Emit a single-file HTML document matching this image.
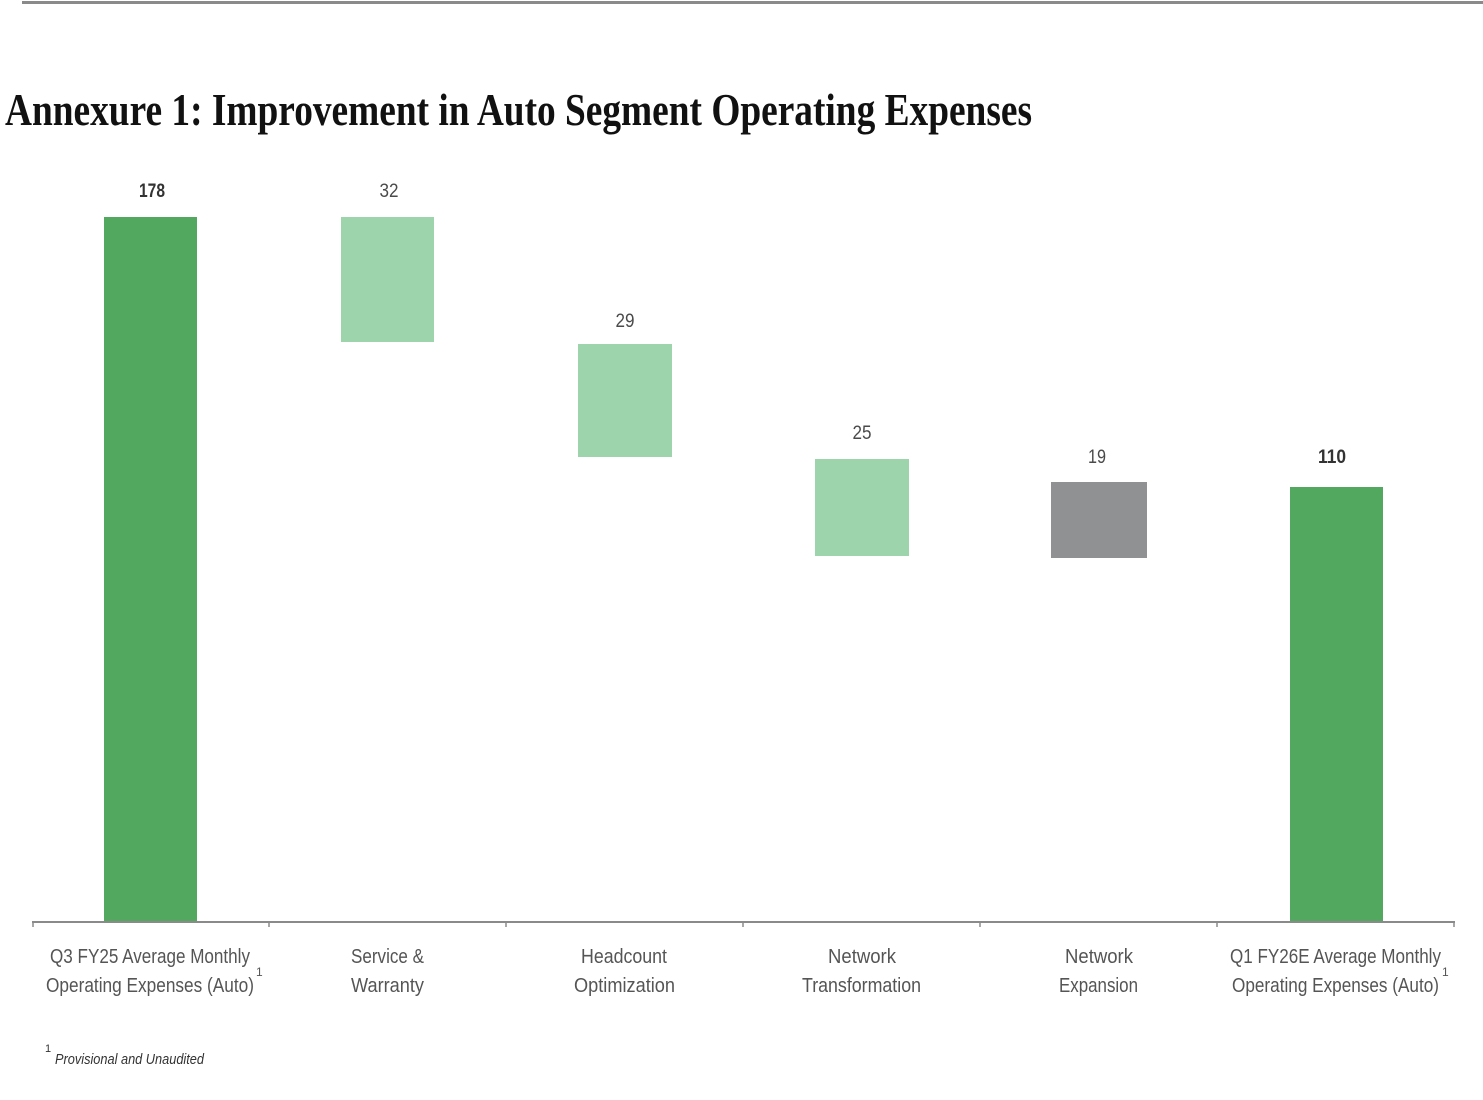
<!DOCTYPE html>
<html><head><meta charset="utf-8"><style>
html,body{margin:0;padding:0;background:#fff;}
svg{display:block;}
</style></head><body>
<svg width="1483" height="1100" viewBox="0 0 1483 1100" xmlns="http://www.w3.org/2000/svg">
<rect width="1483" height="1100" fill="#fff"/>
<rect x="22" y="1" width="1461" height="3" fill="#8a8a8a"/>
<text x="5" y="125" font-family="'Liberation Serif', serif" font-size="46" font-weight="bold" fill="#111" textLength="1027" lengthAdjust="spacingAndGlyphs">Annexure 1: Improvement in Auto Segment Operating Expenses</text>

<!-- bars -->
<rect x="104" y="217" width="93" height="705" fill="#53a85f"/>
<rect x="341" y="217" width="93" height="125" fill="#9dd4ab"/>
<rect x="578" y="344" width="94" height="113" fill="#9dd4ab"/>
<rect x="815" y="459" width="94" height="97" fill="#9dd4ab"/>
<rect x="1051" y="482" width="96" height="76" fill="#909193"/>
<rect x="1290" y="487" width="93" height="435" fill="#53a85f"/>

<!-- axis -->
<line x1="32" y1="922" x2="1455" y2="922" stroke="#8a8a8a" stroke-width="2"/>
<g stroke="#8a8a8a" stroke-width="1.5">
<line x1="33" y1="922" x2="33" y2="927"/>
<line x1="269" y1="922" x2="269" y2="927"/>
<line x1="506" y1="922" x2="506" y2="927"/>
<line x1="743" y1="922" x2="743" y2="927"/>
<line x1="980" y1="922" x2="980" y2="927"/>
<line x1="1217" y1="922" x2="1217" y2="927"/>
<line x1="1454" y1="922" x2="1454" y2="927"/>
</g>

<!-- value labels -->
<g font-family="'Liberation Sans', sans-serif" font-size="19" fill="#4a4a4a" text-anchor="middle">
<text x="152" y="197" font-weight="bold" fill="#333" textLength="26" lengthAdjust="spacingAndGlyphs">178</text>
<text x="389" y="197" textLength="19" lengthAdjust="spacingAndGlyphs">32</text>
<text x="625" y="327" textLength="19" lengthAdjust="spacingAndGlyphs">29</text>
<text x="862" y="439" textLength="19" lengthAdjust="spacingAndGlyphs">25</text>
<text x="1097" y="463" textLength="18" lengthAdjust="spacingAndGlyphs">19</text>
<text x="1332" y="463" font-weight="bold" fill="#333" textLength="28" lengthAdjust="spacingAndGlyphs">110</text>
</g>

<!-- category labels -->
<g font-family="'Liberation Sans', sans-serif" font-size="20" fill="#555">
<text x="50" y="963" textLength="200" lengthAdjust="spacingAndGlyphs">Q3 FY25 Average Monthly</text>
<text x="46" y="992" textLength="208" lengthAdjust="spacingAndGlyphs">Operating Expenses (Auto)</text>
<text x="256" y="976" font-size="12">1</text>

<text x="351" y="963" textLength="73" lengthAdjust="spacingAndGlyphs">Service &amp;</text>
<text x="351" y="992" textLength="73" lengthAdjust="spacingAndGlyphs">Warranty</text>

<text x="581" y="963" textLength="86" lengthAdjust="spacingAndGlyphs">Headcount</text>
<text x="574" y="992" textLength="101" lengthAdjust="spacingAndGlyphs">Optimization</text>

<text x="828" y="963" textLength="68" lengthAdjust="spacingAndGlyphs">Network</text>
<text x="802" y="992" textLength="119" lengthAdjust="spacingAndGlyphs">Transformation</text>

<text x="1065" y="963" textLength="68" lengthAdjust="spacingAndGlyphs">Network</text>
<text x="1059" y="992" textLength="79" lengthAdjust="spacingAndGlyphs">Expansion</text>

<text x="1230" y="963" textLength="211" lengthAdjust="spacingAndGlyphs">Q1 FY26E Average Monthly</text>
<text x="1232" y="992" textLength="207" lengthAdjust="spacingAndGlyphs">Operating Expenses (Auto)</text>
<text x="1442" y="976" font-size="12">1</text>
</g>

<!-- footnote -->
<text x="45" y="1052" font-family="'Liberation Sans', sans-serif" font-size="11" fill="#333">1</text>
<text x="55" y="1064" font-family="'Liberation Sans', sans-serif" font-size="15" font-style="italic" fill="#333" textLength="149" lengthAdjust="spacingAndGlyphs">Provisional and Unaudited</text>
</svg>
</body></html>
